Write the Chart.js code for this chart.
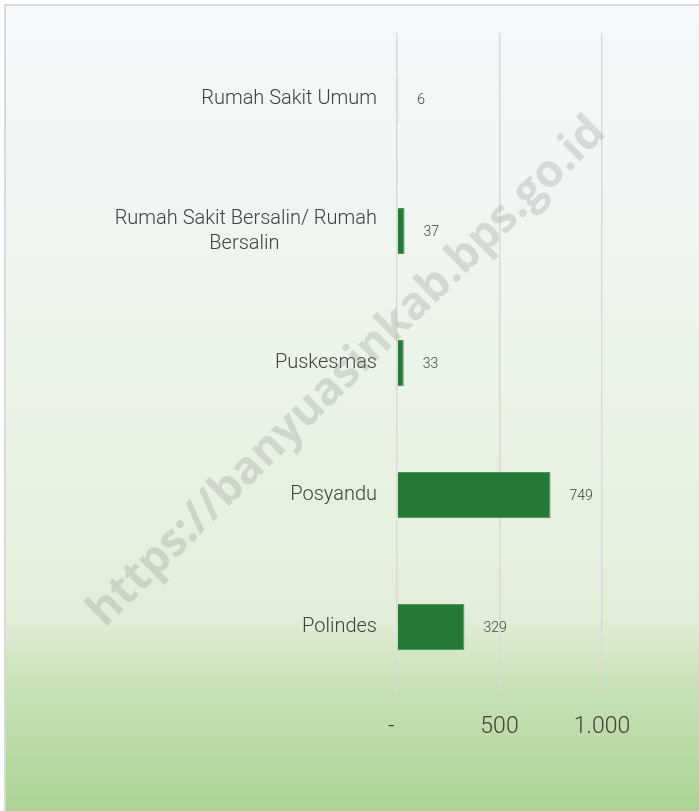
<!DOCTYPE html>
<html>
<head>
<meta charset="utf-8">
<script src="https://cdn.jsdelivr.net/npm/chart.js@4"></script>
<style>
  html, body { margin: 0; padding: 0; background: #ffffff; }
  canvas { display: block; }
</style>
</head>
<body>
<canvas id="fasilitasChart" width="699" height="811"></canvas>
<script>
// Données du graphique
const kategori = ['Rumah Sakit Umum', 'Rumah Sakit Bersalin/ Rumah Bersalin', 'Puskesmas', 'Posyandu', 'Polindes'];
const labelBaris = [['Rumah Sakit Umum'], ['Rumah Sakit Bersalin/ Rumah', 'Bersalin'], ['Puskesmas'], ['Posyandu'], ['Polindes']];
const jumlah = [6, 37, 33, 749, 329];
const tickX = [0, 500, 1000];
const tickLabelX = ['-\u00a0\u00a0', '500', '1.000'];
const watermark = 'https://banyuasinkab.bps.go.id';

const fontLabel = { family: 'Roboto', size: 20, weight: 300 };

// centrer les lignes d'un label multi-ligne (comme Excel) en ajoutant des espaces
function centrerLignes(lignes) {
  if (lignes.length < 2) return lignes;
  const c = document.createElement('canvas').getContext('2d');
  c.font = `${fontLabel.weight} ${fontLabel.size}px ${fontLabel.family}`;
  const maxW = Math.max(...lignes.map(l => c.measureText(l).width));
  const sp = c.measureText('\u00a0').width;
  return lignes.map(l => {
    const n = Math.round((maxW - c.measureText(l).width) / 2 / sp);
    return l + '\u00a0'.repeat(n);
  });
}

// Fond dégradé + bordure
const fondPlugin = {
  id: 'fond',
  beforeDraw(chart) {
    const ctx = chart.ctx;
    const h = chart.height, w = chart.width;
    const g = ctx.createLinearGradient(0, 0, 0, h);
    g.addColorStop(0, '#f5f8fc');
    g.addColorStop(0.45, '#ebf4e8');
    g.addColorStop(0.76, '#e3eed9');
    g.addColorStop(0.84, '#c9e2b9');
    g.addColorStop(1, '#acd392');
    ctx.save();
    ctx.fillStyle = '#ffffff';
    ctx.fillRect(0, 0, w, h);
    ctx.fillStyle = g;
    ctx.fillRect(6, 6, w - 6, h - 6);
    ctx.fillStyle = '#d9d9d9';
    ctx.fillRect(4, 4, w - 4, 2);
    ctx.fillRect(4, 4, 2, h - 4);
    ctx.restore();
  }
};

// Étiquettes de valeurs à droite des barres
const valeurPlugin = {
  id: 'valeurs',
  afterDatasetsDraw(chart) {
    const ctx = chart.ctx;
    const meta = chart.getDatasetMeta(0);
    ctx.save();
    ctx.font = '300 14px Roboto';
    ctx.fillStyle = '#404040';
    ctx.textAlign = 'left';
    ctx.textBaseline = 'middle';
    meta.data.forEach((bar, i) => {
      ctx.fillText(String(jumlah[i]), bar.x + 19, bar.y + 1);
    });
    ctx.restore();
  },
  afterDraw(chart) {
    // filigrane
    const ctx = chart.ctx;
    ctx.save();
    ctx.translate(347, 372);
    ctx.rotate(-44.5 * Math.PI / 180);
    ctx.font = 'bold 40px "Open Sans"';
    const w = ctx.measureText(watermark).width;
    const s = 705 / w;
    ctx.scale(s, s);
    ctx.fillStyle = 'rgba(130, 140, 130, 0.26)';
    ctx.textAlign = 'center';
    ctx.textBaseline = 'middle';
    ctx.fillText(watermark, 0, 0);
    ctx.restore();
  }
};

const ctx = document.getElementById('fasilitasChart').getContext('2d');
new Chart(ctx, {
  type: 'bar',
  data: {
    labels: kategori,
    datasets: [{
      data: jumlah,
      backgroundColor: '#267a38',
      borderColor: '#4c9a5c',
      borderWidth: 1,
      categoryPercentage: 1,
      barPercentage: 0.35
    }]
  },
  options: {
    indexAxis: 'y',
    responsive: false,
    animation: false,
    layout: { padding: { left: 6, top: 33, right: 97, bottom: 0 } },
    plugins: {
      legend: { display: false },
      tooltip: { enabled: false }
    },
    scales: {
      x: {
        min: 0,
        max: 1000,
        afterBuildTicks(scale) {
          scale.ticks = tickX.map(v => ({ value: v }));
        },
        afterFit(scale) { scale.height = 811 - 693; },
        border: { display: false },
        grid: { color: '#d9d9d9', lineWidth: 1.5, drawTicks: false },
        ticks: {
          padding: 20,
          color: '#404040',
          font: { family: 'Roboto', size: 23, weight: 300 },
          callback: (v, i) => tickLabelX[i]
        }
      },
      y: {
        afterFit(scale) { scale.width = 397 - 6; },
        border: { display: false },
        grid: { display: false, drawTicks: false },
        ticks: {
          padding: 20,
          color: '#404040',
          font: Object.assign({ lineHeight: 1.25 }, fontLabel),
          callback: (v, i) => centrerLignes(labelBaris[i])
        }
      }
    }
  },
  plugins: [fondPlugin, valeurPlugin]
});
</script>
</body>
</html>
